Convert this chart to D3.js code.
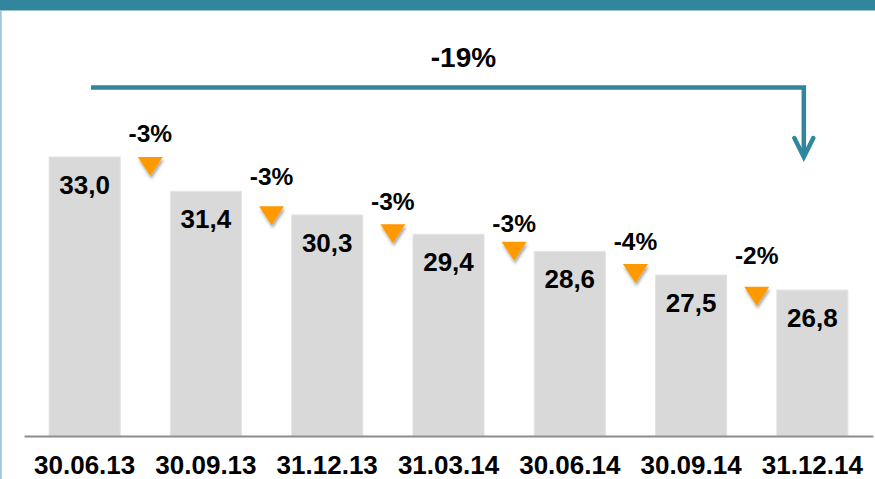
<!DOCTYPE html>
<html>
<head>
<meta charset="utf-8">
<script src="https://cdn.jsdelivr.net/npm/d3@7/dist/d3.min.js"></script>
<style>
  html, body { margin: 0; padding: 0; background: #ffffff; }
  svg { display: block; }
  text { font-family: "Liberation Sans", Arial, sans-serif; font-weight: bold; fill: #000; }
</style>
</head>
<body>
<svg id="chart" width="875" height="479"></svg>
<script>
// Quarter-end dates and the value recorded at each one
const periods = ["30.06.13", "30.09.13", "31.12.13", "31.03.14", "30.06.14", "30.09.14", "31.12.14"];
const values = [33.0, 31.4, 30.3, 29.4, 28.6, 27.5, 26.8];
const valueLabels = ["33,0", "31,4", "30,3", "29,4", "28,6", "27,5", "26,8"];

// Quarter-on-quarter change between neighbouring bars
const changeLabels = ["-3%", "-3%", "-3%", "-3%", "-4%", "-2%"];
// Level (in value units) where each change marker and its label sit
const markerLevels = [33.0, 30.7, 29.87, 29.05, 28.02, 26.95];
const changeLabelLevels = [33.7, 31.7, 30.53, 29.51, 28.67, 28.01];

// Overall change from first to last period
const totalChange = "-19%";
const totalArrowLevel = 36.24;

const W = 875, H = 479;
const svg = d3.select("#chart");

const x = d3.scaleBand()
  .domain(periods)
  .range([24, 873])
  .paddingInner(0.414)
  .paddingOuter(0.207);

const y = d3.scaleLinear()
  .domain([20, 33])
  .range([436, 157]);

const defs = svg.append("defs");
const shadow = defs.append("filter")
  .attr("id", "markerShadow")
  .attr("x", "-50%").attr("y", "-50%")
  .attr("width", "200%").attr("height", "200%");
shadow.append("feDropShadow")
  .attr("dx", 1).attr("dy", 3)
  .attr("stdDeviation", 1.8)
  .attr("flood-color", "#000")
  .attr("flood-opacity", 0.35);

// Header band and left frame line
svg.append("rect")
  .attr("x", 0).attr("y", 0).attr("width", W).attr("height", 10.5)
  .attr("fill", "#31859c");
svg.append("rect")
  .attr("x", 0).attr("y", 10.5).attr("width", 1.7).attr("height", H - 10.5)
  .attr("fill", "#9cc6d6");

// Bars
svg.append("g").selectAll("rect")
  .data(values)
  .join("rect")
  .attr("x", (d, i) => x(periods[i]))
  .attr("y", d => y(d))
  .attr("width", x.bandwidth())
  .attr("height", d => y.range()[0] - y(d))
  .attr("fill", "#d9d9d9")
  .attr("stroke", "#e4e4e4")
  .attr("stroke-width", 1);

// Baseline axis
const xAxis = d3.axisBottom(x).tickSize(0).tickPadding(0);
const axisG = svg.append("g")
  .attr("transform", `translate(0,${y.range()[0]})`)
  .call(xAxis);
axisG.select(".domain")
  .attr("stroke", "#8c8c8c")
  .attr("stroke-width", 2);
axisG.selectAll(".tick text")
  .attr("font-family", "'Liberation Sans', Arial, sans-serif")
  .attr("font-weight", "bold")
  .attr("font-size", 26)
  .attr("fill", "#000")
  .attr("y", 37.5)
  .attr("dy", null);

// Value labels inside the bars
svg.append("g").selectAll("text")
  .data(values)
  .join("text")
  .attr("x", (d, i) => x(periods[i]) + x.bandwidth() / 2)
  .attr("y", d => y(d) + 37)
  .attr("text-anchor", "middle")
  .attr("font-size", 26)
  .text((d, i) => valueLabels[i]);

// Change markers between bars
const gapCenter = i => (x(periods[i]) + x.bandwidth() + x(periods[i + 1])) / 2 + 5;
const triW = 25, triH = 19;

svg.append("g").selectAll("path")
  .data(markerLevels)
  .join("path")
  .attr("d", (d, i) => {
    const cx = gapCenter(i), top = y(d);
    return `M${cx - triW / 2},${top}L${cx + triW / 2},${top}L${cx},${top + triH}Z`;
  })
  .attr("fill", "#ff9900")
  .attr("filter", "url(#markerShadow)");

svg.append("g").selectAll("text")
  .data(changeLabelLevels)
  .join("text")
  .attr("x", (d, i) => gapCenter(i))
  .attr("y", d => y(d))
  .attr("text-anchor", "middle")
  .attr("font-size", 24.5)
  .text((d, i) => changeLabels[i]);

// Overall change arrow from the first period to the last
const arrowStart = x(periods[0]) + x.bandwidth() * 0.59;
const arrowEnd = x(periods[periods.length - 1]) + x.bandwidth() * 0.38;
const arrowY = y(totalArrowLevel);
const arrowTip = y(values[0]) + 1;
const arrowColor = "#31859c";

svg.append("path")
  .attr("d", `M${arrowStart},${arrowY}H${arrowEnd}V${arrowTip - 2}`)
  .attr("fill", "none")
  .attr("stroke", arrowColor)
  .attr("stroke-width", 4.5)
  .attr("stroke-linejoin", "miter");
svg.append("path")
  .attr("d", `M${arrowEnd - 9.5},${arrowTip - 20}L${arrowEnd},${arrowTip - 1}L${arrowEnd + 9.5},${arrowTip - 20}`)
  .attr("fill", "none")
  .attr("stroke", arrowColor)
  .attr("stroke-width", 4.5)
  .attr("stroke-linecap", "round")
  .attr("stroke-linejoin", "miter");

svg.append("text")
  .attr("x", (arrowStart + arrowEnd) / 2 + 16)
  .attr("y", arrowY - 20)
  .attr("text-anchor", "middle")
  .attr("font-size", 28)
  .text(totalChange);
</script>
</body>
</html>
